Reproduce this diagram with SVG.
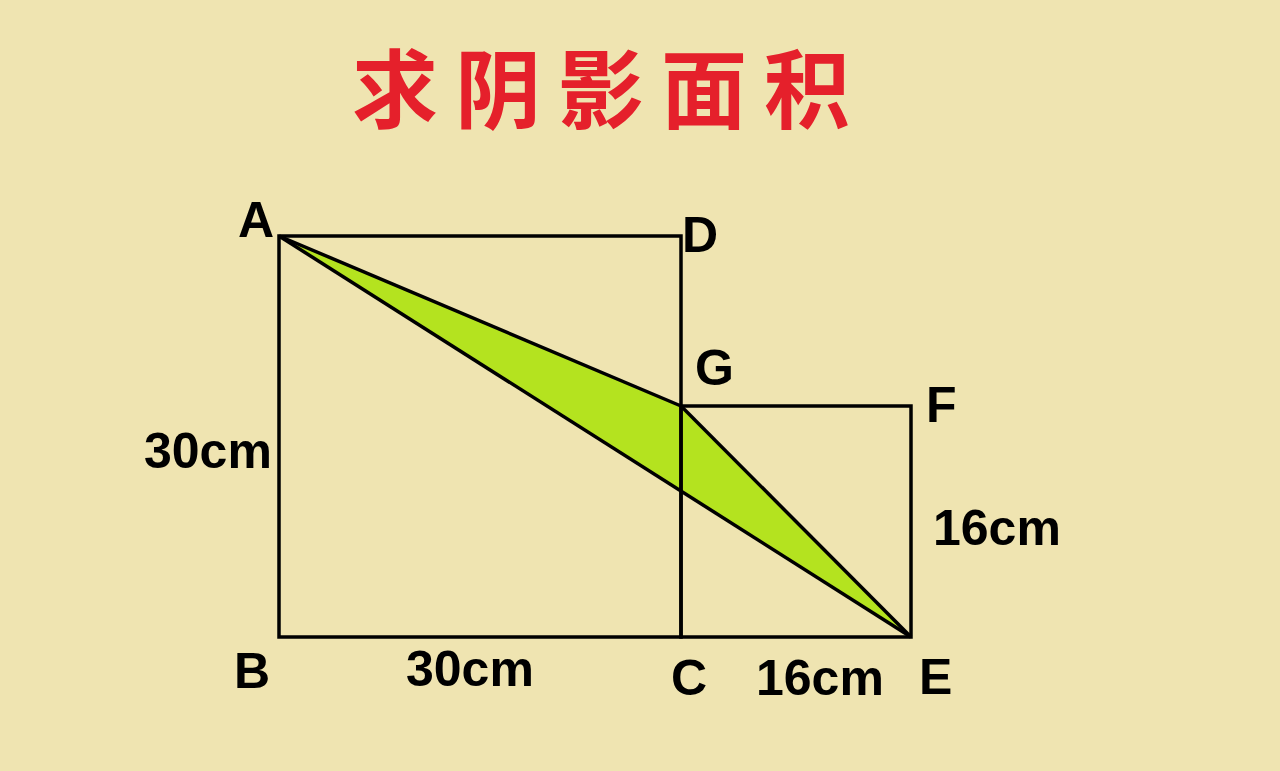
<svg xmlns="http://www.w3.org/2000/svg" width="1280" height="771" viewBox="0 0 1280 771">
<style>
.lbl{font-family:"Liberation Sans",Arial,sans-serif;font-weight:bold;font-size:50px;fill:#000}
.dim{font-family:"Liberation Sans",Arial,sans-serif;font-weight:bold;font-size:50px;fill:#000}
.edge{fill:none;stroke:#000;stroke-width:3.5;stroke-linejoin:miter}
</style>
<rect width="1280" height="771" fill="#efe4b1"/>
<text x="352" y="122" font-family="'Noto Sans CJK SC',sans-serif" font-weight="bold" font-size="86" letter-spacing="17" fill="#e5202b">求阴影面积</text>
<g id="shade"><polygon points="279,236 681,406 911,637" fill="#b4e31f"/></g>
<g id="squareABCD"><rect class="edge" x="279" y="236" width="402" height="401"/></g>
<g id="squareCEFG"><rect class="edge" x="681" y="406" width="230" height="231"/></g>
<g id="connectors">
<line class="edge" x1="279" y1="236" x2="911" y2="637"/>
<line class="edge" x1="279" y1="236" x2="681" y2="406"/>
<line class="edge" x1="681" y1="406" x2="911" y2="637"/>
</g>
<g id="labels">
<text class="lbl" x="238" y="237">A</text>
<text class="lbl" x="682" y="252">D</text>
<text class="lbl" x="695" y="385">G</text>
<text class="lbl" x="926" y="422">F</text>
<text class="lbl" x="234" y="688">B</text>
<text class="lbl" x="671" y="695">C</text>
<text class="lbl" x="919" y="694">E</text>
<text class="dim" x="144" y="468">30cm</text>
<text class="dim" x="406" y="686">30cm</text>
<text class="dim" x="756" y="695">16cm</text>
<text class="dim" x="933" y="545">16cm</text>
</g>
</svg>
